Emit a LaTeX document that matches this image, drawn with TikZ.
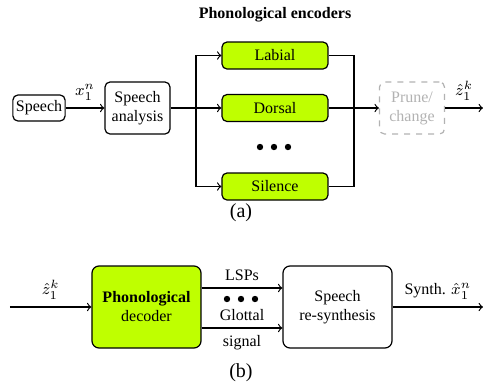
\documentclass[tikz,border=0pt]{standalone}
\usepackage{fontspec}
\setmainfont{Liberation Serif}
\definecolor{phonlime}{RGB}{191,255,0}

\begin{document}
\begin{tikzpicture}[x=0.5pt,y=-0.5pt,font=\footnotesize,
  blk/.style={draw,semithick,rounded corners=2.5pt,align=center,inner sep=1.5pt},
  enc/.style={blk,fill=phonlime,minimum width=53pt,minimum height=13.5pt},
  bigblk/.style={draw,semithick,rounded corners=3.5pt,align=center,minimum width=54.5pt,minimum height=41pt},
  conn/.style={semithick,->}]
\useasboundingbox (0,0) rectangle (484,382);

% Encoder part (a)
\node[font=\footnotesize\bfseries] (title) at (275,15) {Phonological encoders};
\node[blk,minimum height=13pt] (speech) at (39,108) {Speech};
\node[blk,minimum width=32.5pt,minimum height=26pt] (analysis) at (137.5,108) {Speech\\analysis};
\node[enc] (labial) at (275,55.5) {Labial};
\node[enc] (dorsal) at (275,108) {Dorsal};
\node[enc] (silence) at (275,186.5) {Silence};
\node[blk,dashed,draw=gray!60,text=gray!60,minimum width=32.5pt,minimum height=26pt] (prune) at (412,108) {Prune/\\change};
\coordinate (split) at (196,108);
\coordinate (join) at (354,108);
\coordinate (zout) at (483,108);

% dots
\foreach \x in {260,274,288} {
  \fill (\x,147) circle (1.6pt);
}

% Connectors
\draw[conn] (speech) -- node[above] {$x_1^n$} (analysis);
\draw[semithick] (analysis) -- (split);
\draw[conn] (split) |- (labial);
\draw[conn] (split) -- (dorsal);
\draw[conn] (split) |- (silence);
\draw[semithick] (labial) -| (join);
\draw[semithick] (silence) -| (join);
\draw[conn] (dorsal) -- (prune);
\draw[conn] (prune) -- node[above] {$\hat{z}_1^k$} (zout);
\node[font=\normalsize] (capa) at (241,213) {(a)};

% Decoder part (b)
\coordinate (zin) at (10,307);
\node[bigblk,fill=phonlime] (decoder) at (146.5,307) {\textbf{Phonological}\\decoder};
\node[bigblk] (resynth) at (337.5,307) {Speech\\re-synthesis};
\coordinate (xout) at (483,307);

% dots
\foreach \x in {227,241,255} {
  \fill (\x,299) circle (1.6pt);
}

\draw[conn] (zin) -- node[above] {$\hat{z}_1^k$} (decoder);
\draw[conn] ([yshift=9.5pt]decoder.east) -- node[above] {LSPs} ([yshift=9.5pt]resynth.west);
\draw[conn] ([yshift=-10.5pt]decoder.east) -- node[above] {Glottal} node[below] {signal} ([yshift=-10.5pt]resynth.west);
\draw[conn] (resynth) -- node[above] {Synth. $\hat{x}_1^n$} (xout);
\node[font=\normalsize] (capb) at (241,373) {(b)};
\end{tikzpicture}
\end{document}
